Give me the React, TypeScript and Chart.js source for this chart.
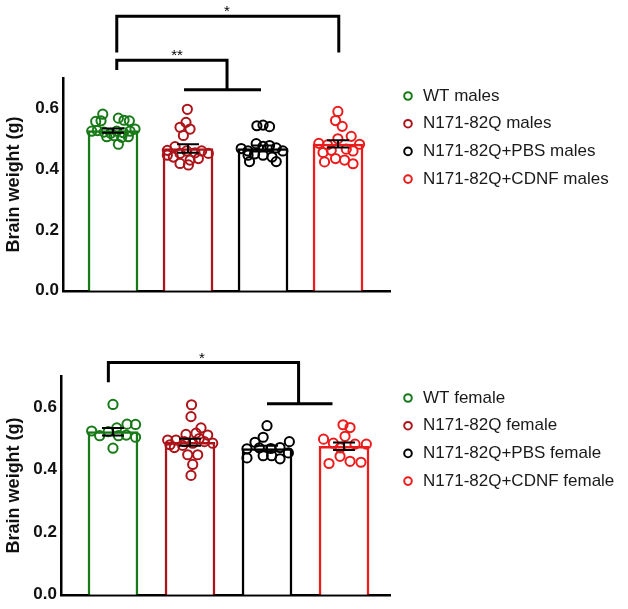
import React, { useEffect, useRef } from "react";
import { Chart, registerables } from "chart.js";

Chart.register(...registerables);

// ---------------- data ----------------
const MALE_LABELS = ["WT males", "N171-82Q males", "N171-82Q+PBS males", "N171-82Q+CDNF males"];
const FEMALE_LABELS = ["WT female", "N171-82Q female", "N171-82Q+PBS female", "N171-82Q+CDNF female"];

const MALE_MEANS = [0.527, 0.468, 0.468, 0.483];
const MALE_SEM = [0.007, 0.014, 0.01, 0.012];
const FEMALE_MEANS = [0.522, 0.488, 0.468, 0.475];
const FEMALE_SEM = [0.012, 0.011, 0.009, 0.012];

// individual animals: [horizontal jitter within the column, brain weight g]
const WT_MALES = [
  [-0.137, 0.581], [-0.231, 0.557], [-0.16, 0.559], [0.071, 0.568], [0.147, 0.561], [0.218, 0.559],
  [-0.284, 0.525], [-0.209, 0.527], [-0.12, 0.522], [-0.031, 0.518], [0.049, 0.525], [0.138, 0.52],
  [0.227, 0.525], [0.293, 0.532], [-0.084, 0.507], [0.013, 0.51], [0.116, 0.505], [0.204, 0.507], [0.071, 0.482],
];
const N171_MALES = [
  [-0.009, 0.597], [-0.027, 0.554], [-0.107, 0.538], [0.027, 0.532], [-0.062, 0.511],
  [-0.276, 0.462], [-0.276, 0.446], [-0.173, 0.474], [-0.107, 0.452], [-0.018, 0.46], [0.093, 0.454],
  [0.182, 0.46], [0.271, 0.452], [-0.107, 0.419], [0.027, 0.43], [0.138, 0.435], [0.005, 0.414], [-0.196, 0.44],
];
const PBS_MALES = [
  [-0.082, 0.543], [0.0, 0.545], [0.087, 0.54], [-0.291, 0.468], [-0.2, 0.46], [-0.091, 0.484],
  [0.0, 0.475], [0.087, 0.478], [0.176, 0.47], [0.264, 0.46], [-0.2, 0.446], [-0.113, 0.45],
  [0.0, 0.446], [0.12, 0.44], [-0.18, 0.425], [0.176, 0.425],
];
const CDNF_MALES = [
  [-0.002, 0.59], [-0.033, 0.56], [0.056, 0.541], [-0.256, 0.485], [-0.14, 0.48], [-0.002, 0.5],
  [0.176, 0.508], [0.287, 0.482], [-0.2, 0.455], [-0.09, 0.462], [0.11, 0.466], [0.2, 0.46],
  [-0.18, 0.424], [-0.033, 0.435], [0.087, 0.43], [0.2, 0.418],
];

const WT_FEMALE = [
  [0.0, 0.609], [-0.277, 0.524], [-0.173, 0.509], [-0.062, 0.522], [0.049, 0.534], [0.182, 0.546],
  [0.293, 0.545], [0.071, 0.509], [0.173, 0.511], [0.293, 0.504], [0.0, 0.469],
];
const N171_FEMALE = [
  [0.02, 0.608], [0.013, 0.57], [0.143, 0.534], [-0.052, 0.513], [0.078, 0.517], [0.23, 0.511],
  [-0.29, 0.495], [-0.182, 0.495], [-0.074, 0.49], [0.035, 0.485], [0.186, 0.49], [0.295, 0.485],
  [-0.203, 0.471], [-0.095, 0.478], [-0.03, 0.448], [0.1, 0.448], [0.035, 0.417], [0.013, 0.382],
  [0.12, 0.5], [-0.26, 0.48],
];
const PBS_FEMALE = [
  [0.0, 0.541], [-0.05, 0.504], [-0.156, 0.488], [0.29, 0.49], [-0.26, 0.467], [-0.1, 0.47],
  [0.05, 0.468], [0.169, 0.471], [0.277, 0.454], [-0.26, 0.438], [-0.05, 0.445], [0.06, 0.445], [0.169, 0.435],
];
const CDNF_FEMALE = [
  [-0.013, 0.544], [0.078, 0.535], [0.013, 0.507], [-0.266, 0.498], [-0.139, 0.485], [0.143, 0.482],
  [0.29, 0.482], [-0.05, 0.47], [-0.052, 0.443], [-0.195, 0.42], [0.078, 0.427], [0.22, 0.424],
];

const Y_TICKS = [0, 0.2, 0.4, 0.6];
const Y_MAX = 0.7;
const Y_TITLE = "Brain weight (g)";

// significance brackets (in data units: group index, weight)
const MALE_BRACKETS = [
  { label: "*", path: [[0.05, 0.784], [0.05, 0.903], [3.01, 0.903], [3.01, 0.784]], under: null, labelX: 1.52 },
  { label: "**", path: [[0.05, 0.726], [0.05, 0.758], [1.52, 0.758], [1.52, 0.661]], under: [0.947, 1.973, 0.661], labelX: 0.853 },
];
const FEMALE_BRACKETS = [
  { label: "*", path: [[-0.06, 0.68], [-0.06, 0.743], [2.41, 0.743], [2.41, 0.611]], under: [2.0, 2.85, 0.611], labelX: 1.156 },
];

// ---------------- styling ----------------
const FONT = "'Liberation Sans', Arial, Helvetica, sans-serif";
const COLORS = ["#177a17", "#ad1419", "#000000", "#ec1c1c"];

type Panel = {
  id: string;
  labels: string[];
  means: number[];
  sems: number[];
  groups: number[][][];
  brackets: any[];
  xMin: number;
  xMax: number;
  axisLeft: number;
  padTop: number;
  padBottom: number;
  legendTop: number;
  height: number;
};

function overlayPlugin(p: Panel) {
  return {
    id: "overlay_" + p.id,
    afterDatasetsDraw(chart: any) {
      const { ctx, chartArea } = chart;
      const xs = chart.scales.x;
      const ys = chart.scales.y;
      ctx.save();
      // error bars (mean ± SEM)
      ctx.strokeStyle = "#000";
      ctx.lineWidth = 2;
      p.means.forEach((m, i) => {
        const cx = xs.getPixelForValue(i);
        const top = ys.getPixelForValue(m + p.sems[i]);
        const bot = ys.getPixelForValue(m - p.sems[i]);
        ctx.beginPath();
        ctx.moveTo(cx, top);
        ctx.lineTo(cx, bot);
        ctx.moveTo(cx - 11, top);
        ctx.lineTo(cx + 11, top);
        ctx.moveTo(cx - 11, bot);
        ctx.lineTo(cx + 11, bot);
        ctx.stroke();
      });
      // significance brackets
      ctx.lineWidth = 3;
      ctx.lineJoin = "miter";
      ctx.lineCap = "butt";
      p.brackets.forEach((b: any) => {
        ctx.beginPath();
        b.path.forEach(([x, y]: number[], k: number) => {
          const px = xs.getPixelForValue(x);
          const py = ys.getPixelForValue(y);
          if (k === 0) ctx.moveTo(px, py);
          else ctx.lineTo(px, py);
        });
        if (b.under) {
          const [a, c, y] = b.under;
          ctx.moveTo(xs.getPixelForValue(a), ys.getPixelForValue(y));
          ctx.lineTo(xs.getPixelForValue(c), ys.getPixelForValue(y));
        }
        ctx.stroke();
        ctx.font = `15px ${FONT}`;
        ctx.fillStyle = "#000";
        ctx.textAlign = "center";
        ctx.textBaseline = "alphabetic";
        ctx.fillText(b.label, xs.getPixelForValue(b.labelX), ys.getPixelForValue(b.path[1][1]));
      });
      // legend
      p.labels.forEach((lab, i) => {
        const y = chartArea.top + p.legendTop + i * 27.7;
        ctx.beginPath();
        ctx.arc(chartArea.right + 18, y, 3.8, 0, Math.PI * 2);
        ctx.strokeStyle = COLORS[i];
        ctx.lineWidth = 2;
        ctx.stroke();
        ctx.fillStyle = "#1a1a1a";
        ctx.font = `17px ${FONT}`;
        ctx.textAlign = "left";
        ctx.textBaseline = "middle";
        ctx.fillText(lab, chartArea.right + 33, y);
      });
      ctx.restore();
    },
  };
}

function buildConfig(p: Panel): any {
  const scatterSets = p.groups.map((g, i) => ({
    type: "scatter",
    label: p.labels[i],
    data: g.map(([dx, v]) => ({ x: i + dx, y: v })),
    pointRadius: 4.6,
    pointBorderWidth: 2,
    pointBackgroundColor: "rgba(0,0,0,0)",
    pointBorderColor: COLORS[i],
    borderColor: COLORS[i],
    backgroundColor: "rgba(0,0,0,0)",
    showLine: false,
    order: 0,
  }));
  const barSet = {
    type: "bar",
    label: "mean",
    data: p.means.map((m, i) => ({ x: i, y: m })),
    backgroundColor: "#ffffff",
    borderColor: COLORS,
    borderWidth: 2.5,
    barThickness: 50,
    borderSkipped: "bottom",
    grouped: false,
    order: 1,
  };
  return {
    type: "bar",
    data: { datasets: [...scatterSets, barSet] },
    options: {
      animation: false,
      responsive: false,
      events: [],
      layout: { padding: { top: p.padTop, right: 628 - 390, bottom: p.padBottom, left: 0 } },
      plugins: { legend: { display: false }, tooltip: { enabled: false } },
      scales: {
        x: {
          type: "linear",
          min: p.xMin,
          max: p.xMax,
          offset: false,
          grid: { display: false, drawTicks: false, offset: false },
          ticks: { display: false },
          border: { display: true, color: "#000", width: 2.5 },
          afterFit: (s: any) => {
            s.height = 0;
          },
        },
        y: {
          type: "linear",
          min: 0,
          max: Y_MAX,
          afterBuildTicks: (s: any) => {
            s.ticks = Y_TICKS.map((v) => ({ value: v }));
          },
          ticks: {
            callback: (v: any) => Number(v).toFixed(1),
            font: { family: FONT, size: 17, weight: "bold" },
            color: "#111",
            padding: 4,
          },
          grid: { display: false, drawTicks: false },
          border: { display: true, color: "#000", width: 2.5 },
          title: {
            display: true,
            text: Y_TITLE,
            font: { family: FONT, size: 18, weight: "bold" },
            color: "#111",
            padding: { top: 3, bottom: 0 },
          },
          afterFit: (s: any) => {
            s.width = p.axisLeft;
          },
        },
      },
    },
    plugins: [overlayPlugin(p)],
  };
}

const MALE_PANEL: Panel = {
  id: "males",
  labels: MALE_LABELS,
  means: MALE_MEANS,
  sems: MALE_SEM,
  groups: [WT_MALES, N171_MALES, PBS_MALES, CDNF_MALES],
  brackets: MALE_BRACKETS,
  xMin: -0.667,
  xMax: 3.693,
  axisLeft: 63,
  padTop: 78,
  padBottom: 10,
  legendTop: 18,
  height: 305,
};

const FEMALE_PANEL: Panel = {
  id: "females",
  labels: FEMALE_LABELS,
  means: FEMALE_MEANS,
  sems: FEMALE_SEM,
  groups: [WT_FEMALE, N171_FEMALE, PBS_FEMALE, CDNF_FEMALE],
  brackets: FEMALE_BRACKETS,
  xMin: -0.675,
  xMax: 3.597,
  axisLeft: 61,
  padTop: 71,
  padBottom: 10,
  legendTop: 22,
  height: 304,
};

function PanelChart({ panel }: { panel: Panel }) {
  const ref = useRef<HTMLCanvasElement>(null);
  useEffect(() => {
    if (!ref.current) return;
    const chart = new Chart(ref.current, buildConfig(panel));
    return () => chart.destroy();
  }, [panel]);
  return (
    <canvas
      ref={ref}
      width={628}
      height={panel.height}
      style={{ display: "block", width: 628, height: panel.height }}
    />
  );
}

export default function App() {
  return (
    <div style={{ position: "absolute", left: 0, top: 0, width: 628, height: 609, background: "#fff" }}>
      <PanelChart panel={MALE_PANEL} />
      <PanelChart panel={FEMALE_PANEL} />
    </div>
  );
}
